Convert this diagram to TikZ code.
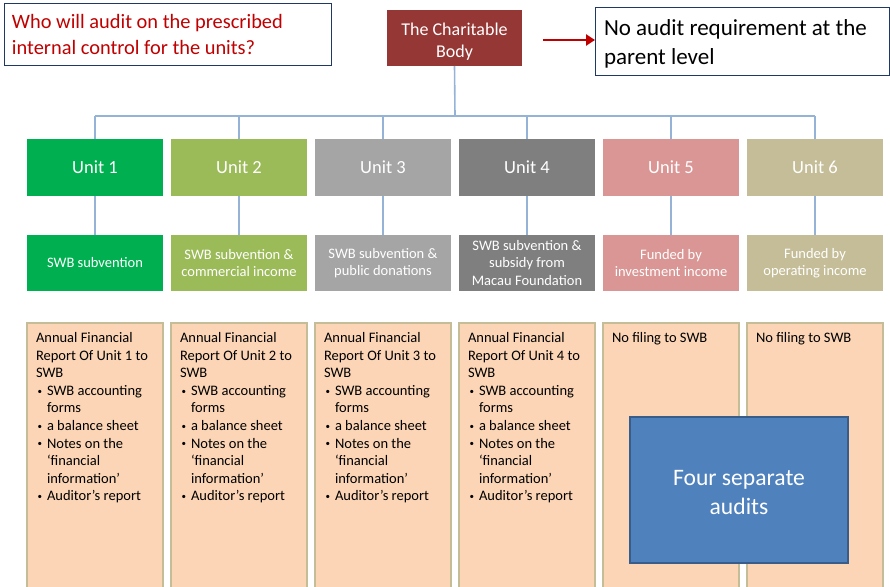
\documentclass[tikz,border=0pt]{standalone}
\usepackage{fontspec}
\setmainfont{Carlito}
\usetikzlibrary{arrows.meta}

\definecolor{bodyred}{HTML}{953735}
\definecolor{qred}{HTML}{C00000}
\definecolor{navy}{HTML}{1F3864}
\definecolor{busblue}{HTML}{95B3D7}
\definecolor{uone}{HTML}{00B050}
\definecolor{utwo}{HTML}{9BBB59}
\definecolor{uthree}{HTML}{A5A5A5}
\definecolor{ufour}{HTML}{7F7F7F}
\definecolor{ufive}{HTML}{D99694}
\definecolor{usix}{HTML}{C4BD97}
\definecolor{peach}{HTML}{FBD5B5}
\definecolor{tan}{HTML}{C4BD97}
\definecolor{auditblue}{HTML}{4F81BD}
\definecolor{auditedge}{HTML}{385D8A}

\newcommand{\bitem}{\makebox[11pt][l]{\hspace*{1.5pt}\raisebox{1.2pt}{\fontsize{9}{9}\selectfont•}}}
\newcommand{\bcont}{\hspace*{11pt}}

\begin{document}
\begin{tikzpicture}[x=1pt,y=-1pt,
  every node/.style={inner sep=0pt, outer sep=0pt},
  callout/.style={draw=navy, line width=0.8pt, fill=white, anchor=north west},
  unitbox/.style={anchor=north west, minimum width=136pt, minimum height=57pt,
    text=white, font=\fontsize{18.5}{22}\selectfont, align=center},
  fundbox/.style={anchor=north west, minimum width=136pt, minimum height=56pt,
    text=white, font=\fontsize{14.5}{17.5}\selectfont, align=center},
  repbox/.style={anchor=north west, draw=tan, line width=2pt, fill=peach,
    minimum width=136pt, minimum height=275pt},
  reptext/.style={anchor=north west, align=left, font=\fontsize{14.5}{17.6}\selectfont},
  conn/.style={draw=busblue, line width=1.6pt},
]
\useasboundingbox (0,0) rectangle (890,586);

% top row: question, parent body, remark
\node[callout, minimum width=327pt, minimum height=62pt] (question) at (4,3) {};
\node[anchor=west, align=left, text=qred, font=\fontsize{20.4}{26}\selectfont]
  (questiontext) at ([xshift=8pt,yshift=-0.5pt]question.west)
  {Who will audit on the prescribed\\internal control for the units?};
\node[anchor=north west, fill=bodyred, minimum width=135pt, minimum height=56pt] (body) at (387,10) {};
\node[text=white, align=center, font=\fontsize{18}{22}\selectfont]
  (bodytext) at ([yshift=-4pt]body.center) {The Charitable\\Body};
\node[callout, minimum width=294pt, minimum height=68pt] (noaudit) at (595,7) {};
\node[anchor=west, align=left, font=\fontsize{23}{29}\selectfont]
  (noaudittext) at ([xshift=9pt,yshift=-3pt]noaudit.west)
  {No audit requirement at the\\parent level};
\coordinate (arrowtail) at (543,40);
\draw[qred, line width=2.6pt, -{Triangle[length=9pt,width=11pt]}] (arrowtail) -- (noaudit.west |- arrowtail);

% units
\node[unitbox, fill=uone]   (u1) at (27,139)  {Unit 1};
\node[unitbox, fill=utwo]   (u2) at (171,139) {Unit 2};
\node[unitbox, fill=uthree] (u3) at (315,139) {Unit 3};
\node[unitbox, fill=ufour]  (u4) at (459,139) {Unit 4};
\node[unitbox, fill=ufive]  (u5) at (603,139) {Unit 5};
\node[unitbox, fill=usix]   (u6) at (747,139) {Unit 6};

% funding sources
\node[fundbox, fill=uone]   (f1) at (27,235)  {SWB subvention};
\node[fundbox, fill=utwo]   (f2) at (171,235) {SWB subvention \&\\commercial income};
\node[fundbox, fill=uthree] (f3) at (315,235) {SWB subvention \&\\public donations};
\node[fundbox, fill=ufour]  (f4) at (459,235) {SWB subvention \&\\subsidy from\\Macau Foundation};
\node[fundbox, fill=ufive]  (f5) at (603,235) {Funded by\\investment income};
\node[fundbox, fill=usix]   (f6) at (747,235) {Funded by\\operating income};

% organisation connectors
\coordinate (bus) at (455,116);
\draw[conn] (body.south) -- (bus);
\draw[conn] (u1.north |- bus) -- (u6.north |- bus);
\foreach \i in {1,...,6} {
  \draw[conn] (u\i.north) -- (u\i.north |- bus);
  \draw[conn] (u\i.south) -- (f\i.north);
}

% filing columns
\foreach \i/\x in {1/27,2/171,3/315,4/459,5/603,6/747} {
  \node[repbox] (r\i) at (\x,323) {};
}
\foreach \i in {1,...,4} {
  \node[reptext] (t\i) at ([xshift=9pt,yshift=-9.5pt]r\i.north west)
    {Annual Financial\\Report Of Unit \i\ to\\SWB\\
     \bitem SWB accounting\\\bcont forms\\
     \bitem a balance sheet\\
     \bitem Notes on the\\\bcont ‘financial\\\bcont information’\\
     \bitem Auditor’s report};
}
\node[reptext] (t5) at ([xshift=9pt,yshift=-9.5pt]r5.north west) {No filing to SWB};
\node[reptext] (t6) at ([xshift=9pt,yshift=-9.5pt]r6.north west) {No filing to SWB};

% audit note
\node[anchor=north west, fill=auditblue, draw=auditedge, line width=1.5pt,
      minimum width=218pt, minimum height=146pt] (audit) at (630,417) {};
\node[text=white, align=center, font=\fontsize{23.6}{29}\selectfont]
  (audittext) at ([yshift=-2.5pt]audit.center) {Four separate\\audits};
\end{tikzpicture}
\end{document}
